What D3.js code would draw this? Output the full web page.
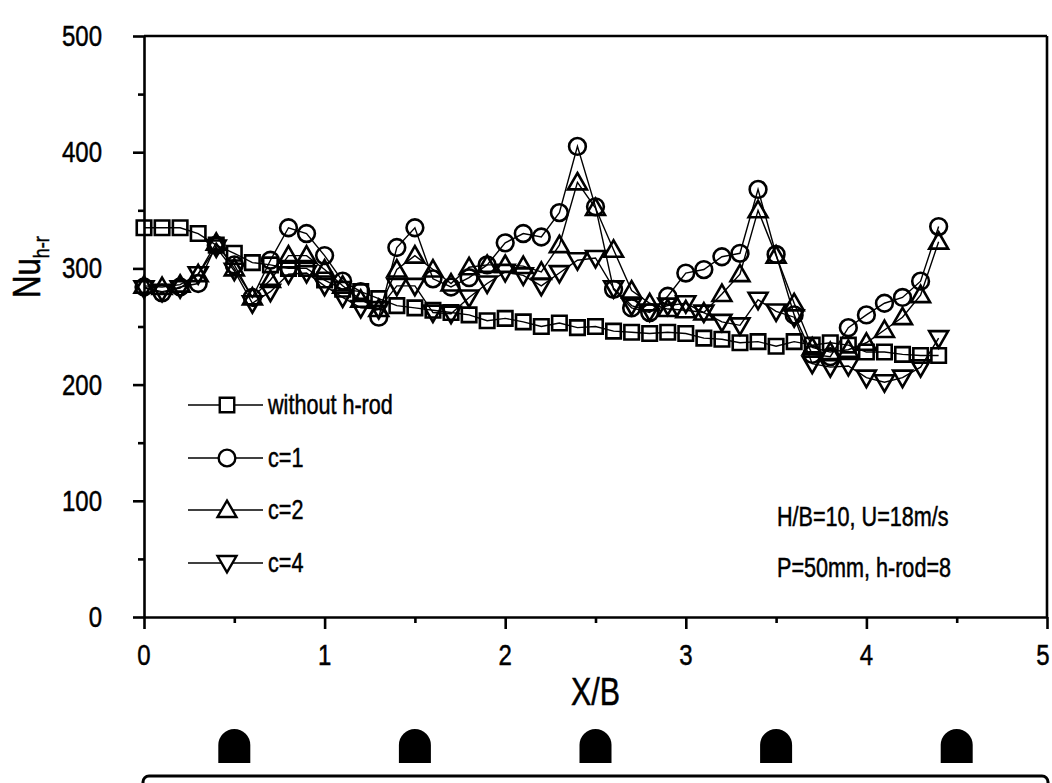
<!DOCTYPE html>
<html>
<head>
<meta charset="utf-8">
<script src="https://cdn.jsdelivr.net/npm/d3@7"></script>
<style>
  html, body { margin: 0; padding: 0; background: #fff; }
  svg { display: block; }
  text { font-family: "Liberation Sans", Arial, sans-serif; fill: #000; stroke: #000; stroke-width: 0.5; }
</style>
</head>
<body>
<svg id="chart" width="1052" height="783"></svg>
<script>
// Streamwise position X/B of each measurement station
const xPos = [0, 0.1, 0.2, 0.3, 0.4, 0.5, 0.6, 0.7, 0.8, 0.9,
              1.0, 1.1, 1.2, 1.3, 1.4, 1.5, 1.6, 1.7, 1.8, 1.9,
              2.0, 2.1, 2.2, 2.3, 2.4, 2.5, 2.6, 2.7, 2.8, 2.9,
              3.0, 3.1, 3.2, 3.3, 3.4, 3.5, 3.6, 3.7, 3.8, 3.9,
              4.0, 4.1, 4.2, 4.3, 4.4];

// Local Nusselt number, smooth channel
const nuWithout = [335, 335, 335, 330, 320, 313, 305, 303, 300, 300,
                   290, 282, 280, 274, 268, 266, 264, 262, 260, 255,
                   257, 254, 250, 253, 249, 250, 246, 245, 244, 245,
                   244, 240, 239, 236, 237, 233, 237, 234, 236, 234,
                   228, 228, 226, 225, 225];
// c = 1
const nuC1 = [284, 279, 284, 287, 320, 303, 275, 307, 335, 330,
              311, 289, 280, 258, 318, 335, 291, 284, 292, 303,
              322, 330, 327, 348, 405, 353, 282, 266, 262, 276,
              296, 299, 310, 313, 368, 312, 260, 226, 224, 249,
              260, 270, 275, 289, 336];
// c = 2
const nuC2 = [285, 284, 286, 295, 322, 300, 275, 290, 311, 311,
              299, 285, 273, 265, 299, 311, 299, 287, 301, 303,
              303, 302, 297, 320, 374, 352, 316, 281, 270, 265,
              264, 262, 278, 295, 350, 311, 270, 232, 228, 230,
              236, 247, 258, 277, 323];
// c = 4
const nuC4 = [283, 280, 283, 295, 318, 298, 270, 280, 295, 296,
              285, 275, 266, 265, 285, 285, 262, 261, 275, 287,
              297, 294, 285, 296, 307, 309, 283, 268, 263, 268,
              270, 262, 254, 251, 273, 263, 258, 218, 215, 216,
              206, 202, 206, 215, 240];

const seriesNames = ["without h-rod", "c=1", "c=2", "c=4"];
const xTicks = [0, 1, 2, 3, 4, 5];
const xMinorTicks = [0.5, 1.5, 2.5, 3.5, 4.5];
const yTicks = [0, 100, 200, 300, 400, 500];
const yMinorTicks = [50, 150, 250, 350, 450];
const rodPositions = [0.5, 1.5, 2.5, 3.5, 4.5];
const notes = ["H/B=10, U=18m/s", "P=50mm, h-rod=8"];

const svg = d3.select("#chart");
const x = d3.scaleLinear().domain([0, 5]).range([144, 1047]);
const y = d3.scaleLinear().domain([0, 500]).range([617, 36]);

const axisWidth = 2.6;
const narrow = 0.8;   // horizontal squeeze giving a condensed face

// Condensed text drawn at (px, py)
function ntext(parent, px, py, str, size, anchor) {
  return parent.append("g").attr("transform", `translate(${px},${py}) scale(${narrow},1)`)
    .append("text").attr("font-size", size).attr("text-anchor", anchor || "start").text(str);
}

// Frame: top and right borders
svg.append("line").attr("x1", x(0)).attr("x2", x(5)).attr("y1", y(500)).attr("y2", y(500))
  .attr("stroke", "#000").attr("stroke-width", axisWidth);
svg.append("line").attr("x1", x(5)).attr("x2", x(5)).attr("y1", y(500)).attr("y2", y(0))
  .attr("stroke", "#000").attr("stroke-width", axisWidth);

// Bottom axis (major and minor ticks)
svg.append("g").attr("transform", `translate(0,${y(0)})`)
  .call(d3.axisBottom(x).tickValues(xTicks).tickSize(12).tickSizeOuter(0).tickFormat(""));
svg.append("g").attr("transform", `translate(0,${y(0)})`)
  .call(d3.axisBottom(x).tickValues(xMinorTicks).tickSize(6).tickSizeOuter(0).tickFormat(""))
  .select(".domain").remove();

// Left axis (major and minor ticks)
svg.append("g").attr("transform", `translate(${x(0)},0)`)
  .call(d3.axisLeft(y).tickValues(yTicks).tickSize(11).tickSizeOuter(0).tickFormat(""));
svg.append("g").attr("transform", `translate(${x(0)},0)`)
  .call(d3.axisLeft(y).tickValues(yMinorTicks).tickSize(6).tickSizeOuter(0).tickFormat(""))
  .select(".domain").remove();

svg.selectAll(".domain, .tick line").attr("stroke", "#000").attr("stroke-width", axisWidth);

// Tick labels
xTicks.forEach(v => ntext(svg, Math.min(x(v), 1043), 665, String(v), 30, "middle"));
yTicks.forEach(v => ntext(svg, 102, y(v) + 10, String(v), 30, "end"));

// Axis titles
ntext(svg, x(2.5), 705, "X/B", 38, "middle");

const yTitleG = svg.append("g").attr("transform", "translate(40,298) rotate(-90) scale(0.82,1)");
const yTitle = yTitleG.append("text").attr("font-size", 38);
yTitle.append("tspan").text("Nu");
yTitle.append("tspan").attr("font-size", 22).attr("dy", 9).text("h-r");

// Series
const seriesData = [nuWithout, nuC1, nuC2, nuC4];
const symbols = [
  d3.symbol().type(d3.symbolSquare).size(210),
  d3.symbol().type(d3.symbolCircle).size(220),
  d3.symbol().type(d3.symbolTriangle).size(155),
  d3.symbol().type(d3.symbolTriangle).size(155)
];
const rotations = [0, 0, 0, 180];
const nudge = [0, 0, 1.5, -1.5];

const line = d3.line().x((d, i) => x(xPos[i])).y(d => y(d));

seriesData.forEach((vals, s) => {
  svg.append("path").datum(vals).attr("d", line)
    .attr("fill", "none").attr("stroke", "#000").attr("stroke-width", 1.4);
  svg.append("g").selectAll("path").data(vals).join("path")
    .attr("d", symbols[s])
    .attr("transform", (d, i) => `translate(${x(xPos[i])},${y(d) + nudge[s]}) rotate(${rotations[s]})`)
    .attr("fill", "none").attr("stroke", "#000").attr("stroke-width", 2.6);
});

// Legend
const legendRows = [405, 458, 510, 563];
seriesNames.forEach((name, s) => {
  const g = svg.append("g").attr("transform", `translate(0,${legendRows[s]})`);
  g.append("line").attr("x1", 188).attr("x2", 263).attr("y1", 0).attr("y2", 0)
    .attr("stroke", "#000").attr("stroke-width", 1.4);
  g.append("path").attr("d", symbols[s])
    .attr("transform", `translate(227,${nudge[s]}) rotate(${rotations[s]})`)
    .attr("fill", "#fff").attr("stroke", "#000").attr("stroke-width", 2.4);
  ntext(g, 268, 9, name, 27);
});

// Flow conditions
notes.forEach((t, i) => ntext(svg, 777, 526 + i * 51, t, 27));

// Rib (h-rod) cross-sections under the axis
const rodW = 32, rodH = 34, rodR = 16, rodBase = 763;
svg.append("g").selectAll("path").data(rodPositions).join("path")
  .attr("d", d => {
    const cx = x(d), l = cx - rodW / 2, r = cx + rodW / 2;
    return `M${l},${rodBase} L${l},${rodBase - rodH + rodR} A${rodR},${rodR} 0 0 1 ${r},${rodBase - rodH + rodR} L${r},${rodBase} Z`;
  })
  .attr("fill", "#000");

// Channel wall
svg.append("rect").attr("x", 143).attr("y", 776).attr("width", 905).attr("height", 40)
  .attr("rx", 6).attr("fill", "none").attr("stroke", "#000").attr("stroke-width", 3);
</script>
</body>
</html>
